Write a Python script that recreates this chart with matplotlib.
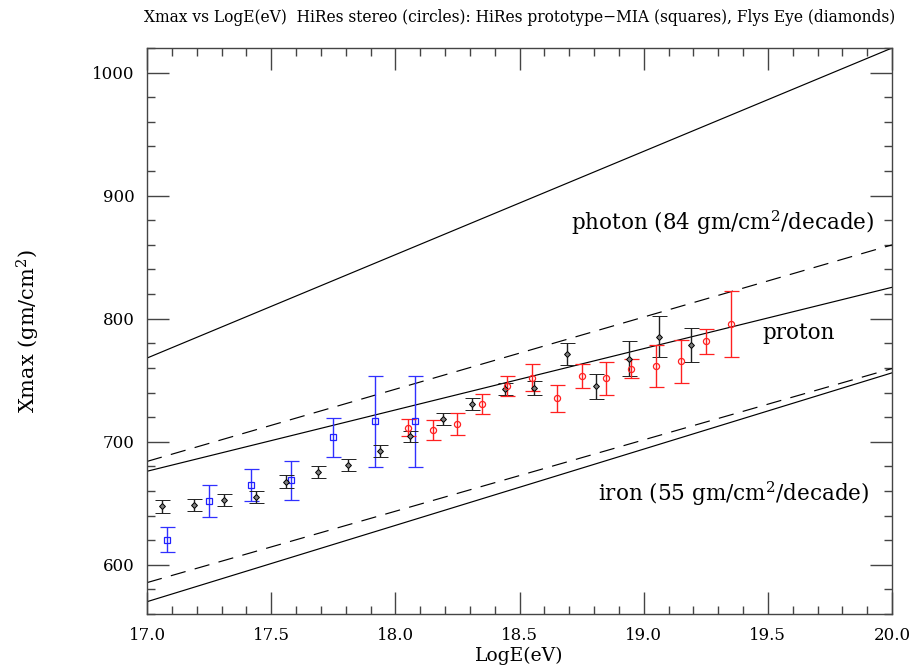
import numpy as np
import matplotlib
matplotlib.use("Agg")
import matplotlib.pyplot as plt
from matplotlib.ticker import MultipleLocator

plt.rcParams['mathtext.fontset'] = 'dejavuserif'

# HiRes stereo (circles)
circ_x = [18.05, 18.15, 18.25, 18.35, 18.45, 18.55, 18.65, 18.75, 18.85, 18.95, 19.05, 19.15, 19.25, 19.35]
circ_y = [711.5, 709.5, 714.5, 730.5, 745.5, 752.0, 735.5, 753.5, 751.5, 759.5, 761.5, 765.5, 781.5, 795.5]
circ_e = [7.0, 8.0, 9.0, 8.0, 8.0, 11.0, 11.0, 9.5, 13.5, 8.0, 17.0, 17.5, 10.0, 27.0]

# HiRes prototype-MIA (squares)
sq_x = [17.08, 17.25, 17.42, 17.58, 17.75, 17.92, 18.08]
sq_y = [620.5, 651.5, 664.5, 668.5, 703.5, 716.5, 716.5]
sq_e = [10.0, 13.0, 13.0, 16.0, 16.0, 37.0, 37.0]

# Fly's Eye (diamonds)
dia_x = [17.06, 17.19, 17.31, 17.44, 17.56, 17.69, 17.81, 17.94, 18.06, 18.19,
         18.31, 18.44, 18.56, 18.69, 18.81, 18.94, 19.06, 19.19]
dia_y = [647.5, 648.5, 652.5, 655.0, 667.5, 675.5, 681.0, 692.5, 704.5, 718.5,
         730.5, 742.5, 743.5, 771.0, 745.0, 767.5, 785.5, 778.5]
dia_e = [5.2, 5.0, 5.0, 5.0, 5.2, 4.7, 4.8, 5.0, 4.6, 4.8,
         4.9, 4.9, 5.6, 9.0, 10.0, 14.0, 17.0, 14.0]

# model lines: (value at 17, value at 20)
line_x = [17.0, 20.0]
photon = [768.0, 1020.0]
proton_solid = [676.0, 825.5]
proton_dash = [684.0, 860.0]
iron_solid = [570.0, 756.0]
iron_dash = [585.5, 759.5]

fig = plt.figure(figsize=(9.17, 6.72), dpi=100)
ax = fig.add_axes([147/917, 1-614/672, (892-147)/917, (614-48)/672])

lw = 0.85
ax.plot(line_x, photon, color='black', lw=lw)
ax.plot(line_x, proton_solid, color='black', lw=lw)
ax.plot(line_x, proton_dash, color='black', lw=lw, dashes=(13, 8))
ax.plot(line_x, iron_solid, color='black', lw=lw)
ax.plot(line_x, iron_dash, color='black', lw=lw, dashes=(13, 8))

ax.errorbar(sq_x, sq_y, yerr=sq_e, fmt='s', ms=4.0, mfc='none', mec='#2020ff',
            mew=0.9, ecolor='#3030ff', elinewidth=1.0, capsize=5.4, capthick=1.0)
ax.errorbar(dia_x, dia_y, yerr=dia_e, fmt='D', ms=3.0, mfc='#808080', mec='black',
            mew=0.7, ecolor='#202020', elinewidth=1.0, capsize=5.4, capthick=1.0)
ax.errorbar(circ_x, circ_y, yerr=circ_e, fmt='o', ms=4.4, mfc='none', mec='#ff2020',
            mew=0.9, ecolor='#ff2020', elinewidth=1.0, capsize=5.4, capthick=1.0)

ax.set_xlim(17.0, 20.0)
ax.set_ylim(560, 1020)
ax.xaxis.set_major_locator(MultipleLocator(0.5))
ax.xaxis.set_minor_locator(MultipleLocator(0.1))
ax.yaxis.set_major_locator(MultipleLocator(100))
ax.yaxis.set_minor_locator(MultipleLocator(20))
ax.tick_params(which='both', direction='in', top=True, right=True, width=1.0, color='#444444')
ax.tick_params(which='major', length=16)
ax.tick_params(which='minor', length=6)
ax.set_xticklabels([f'{v:.1f}' for v in ax.get_xticks()])
for lab in ax.get_xticklabels() + ax.get_yticklabels():
    lab.set_fontfamily('DejaVu Serif')
    lab.set_fontsize(12)
ax.tick_params(axis='x', pad=9)
ax.tick_params(axis='y', pad=9)
for s in ax.spines.values():
    s.set_color('#444444')
    s.set_linewidth(1.0)

ax.set_xlabel('LogE(eV)', fontfamily='DejaVu Serif', fontsize=13.5)
ax.xaxis.set_label_coords(0.5, -(647-614)/566, transform=ax.transAxes)
ax.set_ylabel('Xmax (gm/cm$^2$)', fontfamily='DejaVu Serif', fontsize=15)
ax.yaxis.set_label_coords(-(147-42)/745, 0.5, transform=ax.transAxes)

fig.text((147+892)/2/917, 1-18/672, 'Xmax vs LogE(eV)  HiRes stereo (circles): HiRes prototype\u2212MIA (squares), Flys Eye (diamonds)',
         ha='center', va='center', fontsize=11.2, fontfamily='DejaVu Serif')

tk = dict(fontfamily='DejaVu Serif', fontsize=15.5, color='black')
ax.text(19.93, 878, 'photon (84 gm/cm$^2$/decade)', ha='right', va='center', **tk)
ax.text(19.48, 788, 'proton', ha='left', va='center', **tk)
ax.text(19.91, 657.5, 'iron (55 gm/cm$^2$/decade)', ha='right', va='center', **tk)

fig.savefig('out.png', dpi=100)
